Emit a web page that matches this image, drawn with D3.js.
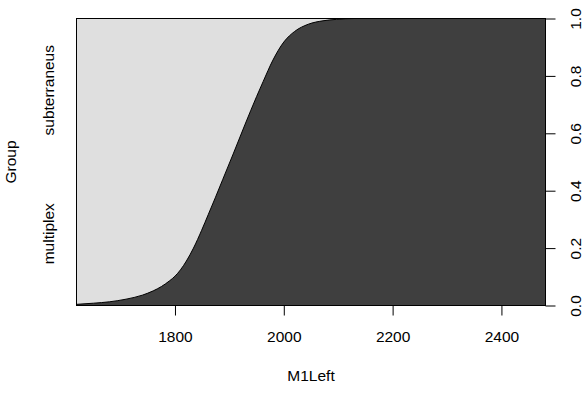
<!DOCTYPE html>
<html>
<head>
<meta charset="utf-8">
<script src="https://cdn.jsdelivr.net/npm/d3@7"></script>
<style>
  html, body { margin: 0; padding: 0; background: #ffffff; }
  svg text { font-family: "Liberation Sans", Arial, Helvetica, sans-serif; fill: #000; }
</style>
</head>
<body>
<svg id="chart" width="584" height="403"></svg>
<script>
// ---- data ----
const xValues = [1619, 1650, 1680, 1710, 1740, 1760, 1775, 1790, 1800, 1810, 1821, 1834, 1849, 1861, 1874, 1888, 1907, 1929, 1950, 1962, 1980, 2000, 2020, 2045, 2072, 2097, 2130, 2200, 2300, 2400, 2481];
const pMultiplex = [0.004, 0.008, 0.013, 0.022, 0.036, 0.051, 0.066, 0.086, 0.102, 0.124, 0.155, 0.200, 0.262, 0.316, 0.375, 0.440, 0.528, 0.632, 0.728, 0.780, 0.855, 0.918, 0.955, 0.980, 0.992, 0.997, 1, 1, 1, 1, 1];
const groups = ["multiplex", "subterraneus"];
const groupPos = [0.25, 0.75];
const xTicks = [1800, 2000, 2200, 2400];
const yTicks = [0, 0.2, 0.4, 0.6, 0.8, 1.0];
const xTitle = "M1Left";
const yTitle = "Group";

const svg = d3.select("#chart");
const L = 76.5, R = 545.5, T = 18.5, B = 305.5;
const FS = 15.5;

const x = d3.scaleLinear().domain([1619, 2481]).range([L, R]);
const y = d3.scaleLinear().domain([0, 1]).range([B, T]);

const pts = xValues.map((v, i) => [v, pMultiplex[i]]);

// light background (subterraneus)
svg.append("rect").attr("x", L).attr("y", T).attr("width", R - L).attr("height", B - T)
  .attr("fill", "#dfdfdf");

// dark area (multiplex)
const area = d3.area().x(d => x(d[0])).y0(y(0)).y1(d => y(d[1])).curve(d3.curveMonotoneX);
svg.append("path").datum(pts).attr("d", area).attr("fill", "#3f3f3f");

const line = d3.line().x(d => x(d[0])).y(d => y(d[1])).curve(d3.curveMonotoneX);
svg.append("path").datum(pts).attr("d", line).attr("fill", "none").attr("stroke", "#000").attr("stroke-width", 1);

// box
svg.append("rect").attr("x", L).attr("y", T).attr("width", R - L).attr("height", B - T)
  .attr("fill", "none").attr("stroke", "#000").attr("stroke-width", 1);

// bottom axis
const xAxis = d3.axisBottom(x).tickValues(xTicks).tickSize(10).tickPadding(8).tickFormat(d3.format("d"));
const gx = svg.append("g").attr("transform", `translate(0,${B})`).call(xAxis);
gx.select(".domain").attr("d", `M${x(xTicks[0])},0H${x(xTicks[xTicks.length-1])}`).attr("stroke", "#000");
gx.selectAll(".tick line").attr("stroke", "#000");
gx.selectAll("text")
  .attr("y", null).attr("dy", null)
  .attr("transform", "translate(0,31)")
  .attr("dominant-baseline", "central")
  .attr("font-size", FS).attr("font-family", "Liberation Sans, Arial, sans-serif").attr("fill", "#000");

// right axis
const yAxis = d3.axisRight(y).tickValues(yTicks).tickSize(10).tickFormat(d3.format(".1f"));
const gy = svg.append("g").attr("transform", `translate(${R},0)`).call(yAxis);
gy.select(".domain").attr("d", `M0,${y(0)}V${y(1)}`).attr("stroke", "#000");
gy.selectAll(".tick line").attr("stroke", "#000");
gy.selectAll(".tick text")
  .attr("x", null).attr("dy", null)
  .attr("transform", "translate(30,0) rotate(-90)")
  .attr("text-anchor", "middle")
  .attr("dominant-baseline", "central")
  .attr("font-size", FS).attr("font-family", "Liberation Sans, Arial, sans-serif").attr("fill", "#000");

// left group labels
svg.selectAll(".glab").data(groups).enter().append("text")
  .attr("class", "glab")
  .attr("transform", (d, i) => `translate(48,${y(groupPos[i])}) rotate(-90)`)
  .attr("text-anchor", "middle").attr("dominant-baseline", "central")
  .attr("font-size", FS)
  .text(d => d);

// titles
svg.append("text").attr("x", (L + R) / 2).attr("y", 375)
  .attr("text-anchor", "middle").attr("dominant-baseline", "central")
  .attr("font-size", FS).text(xTitle);
svg.append("text").attr("transform", `translate(10,${(T + B) / 2}) rotate(-90)`)
  .attr("text-anchor", "middle").attr("dominant-baseline", "central")
  .attr("font-size", FS).text(yTitle);
</script>
</body>
</html>
